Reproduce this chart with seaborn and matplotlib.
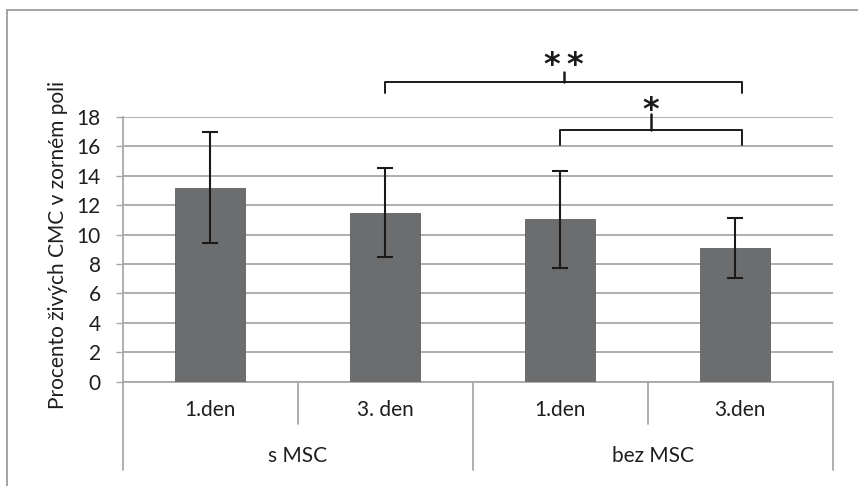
import matplotlib
matplotlib.use("Agg")
import matplotlib.pyplot as plt
import seaborn as sns
import pandas as pd
from matplotlib.lines import Line2D

# ---- data ----
days = ["1.den", "3. den", "1.den ", "3.den"]
groups = ["s MSC", "bez MSC"]
group_of_day = ["s MSC", "s MSC", "bez MSC", "bez MSC"]
values = [13.2, 11.5, 11.05, 9.1]
errors = [3.75, 3.0, 3.3, 2.05]
day_labels = ["1.den", "3. den", "1.den", "3.den"]
yticks = [0, 2, 4, 6, 8, 10, 12, 14, 16, 18]
ylabel = "Procento živých CMC v zorném poli"

sns.set_theme(style="white")
plt.rcParams['font.family'] = ['Lato', 'DejaVu Sans']

df = pd.DataFrame({"day": days, "value": values, "group": group_of_day})

fig = plt.figure(figsize=(8.58, 4.86), dpi=100)
ax = fig.add_axes([123 / 858, (486 - 381.5) / 486, 710 / 858, (381.5 - 117) / 486])

grid_c = "#a8a8a8"
txt_c = "#1e1e1e"
fs = 15
sns.barplot(data=df, x="day", y="value", order=days, color="#6c6d6f",
            saturation=1, width=0.4, ax=ax, zorder=3, errorbar=None)
for p in ax.patches:
    p.set_edgecolor("#5e5f61")
    p.set_linewidth(0.6)

ax.errorbar(range(len(days)), values, yerr=errors, fmt="none",
            ecolor="#1a1a1a", elinewidth=1.5, capsize=6, capthick=1.5, zorder=4)

ax.set_ylim(0, 18)
ax.set_xlim(-0.5, 3.56)
ax.set_yticks(yticks)
ax.set_yticklabels([str(t) for t in yticks], fontsize=fs, color=txt_c)
ax.yaxis.grid(True, color=grid_c, linewidth=1.3)
ax.set_axisbelow(True)
ax.tick_params(axis="y", direction="out", length=5, width=1, color=grid_c, pad=11, left=True)
ax.tick_params(axis="x", bottom=False, labelbottom=False)
ax.set_xlabel("")
ax.set_ylabel(ylabel, fontsize=fs, color=txt_c)
ax.yaxis.set_label_coords(-0.078, 0.515)

for s in ["top", "right"]:
    ax.spines[s].set_visible(False)
for s in ["left", "bottom"]:
    ax.spines[s].set_color(grid_c)
    ax.spines[s].set_linewidth(1.3)

# hierarchical category axis
tr = ax.get_xaxis_transform()
short_y = -0.162
long_y = -0.336
for xs, yb in [(-0.5, long_y), (0.5, short_y), (1.5, long_y), (2.5, short_y)]:
    ax.add_line(Line2D([xs, xs], [0, yb], transform=tr, color=grid_c,
                       linewidth=1.3, clip_on=False))
ax.add_line(Line2D([1, 1], [0, long_y], transform=ax.transAxes, color=grid_c,
                   linewidth=1.3, clip_on=False))
day_x = [0, 1, 2, 3.03]
for xi, lab in zip(day_x, day_labels):
    ax.text(xi, -0.109, lab, transform=tr, ha="center", va="center",
            fontsize=fs, color=txt_c)
for xi, lab in zip([0.5, 2.53], groups):
    ax.text(xi, -0.283, lab, transform=tr, ha="center", va="center",
            fontsize=fs, color=txt_c)

# significance brackets
def bracket(x1, x2, y, leg, tip, label, ty):
    xm = (x1 + x2) / 2
    ax.add_line(Line2D([x1, x1, x2, x2], [y - leg, y, y, y - leg], color="#1a1a1a",
                       linewidth=1.4, clip_on=False))
    ax.add_line(Line2D([xm, xm], [y, y + tip], color="#1a1a1a",
                       linewidth=1.8, clip_on=False))
    ax.text(xm, ty, label, ha="center", va="center", fontsize=23, fontweight="bold",
            color="#1a1a1a", family="DejaVu Sans", clip_on=False)

bracket(1.0, 3.04, 20.39, 0.75, 0.68, "*\u2009*", 21.5)
bracket(2.0, 3.04, 17.12, 1.02, 1.08, "*", 18.45)

# outer frame
frame_c = "#9c9c9c"
fig.add_artist(Line2D([7 / 858, 1.0], [1 - 10 / 486, 1 - 10 / 486],
                      transform=fig.transFigure, color=frame_c, linewidth=1.3))
fig.add_artist(Line2D([7 / 858, 7 / 858], [0, 1 - 10 / 486],
                      transform=fig.transFigure, color=frame_c, linewidth=1.3))

fig.savefig("out.png", dpi=100)
